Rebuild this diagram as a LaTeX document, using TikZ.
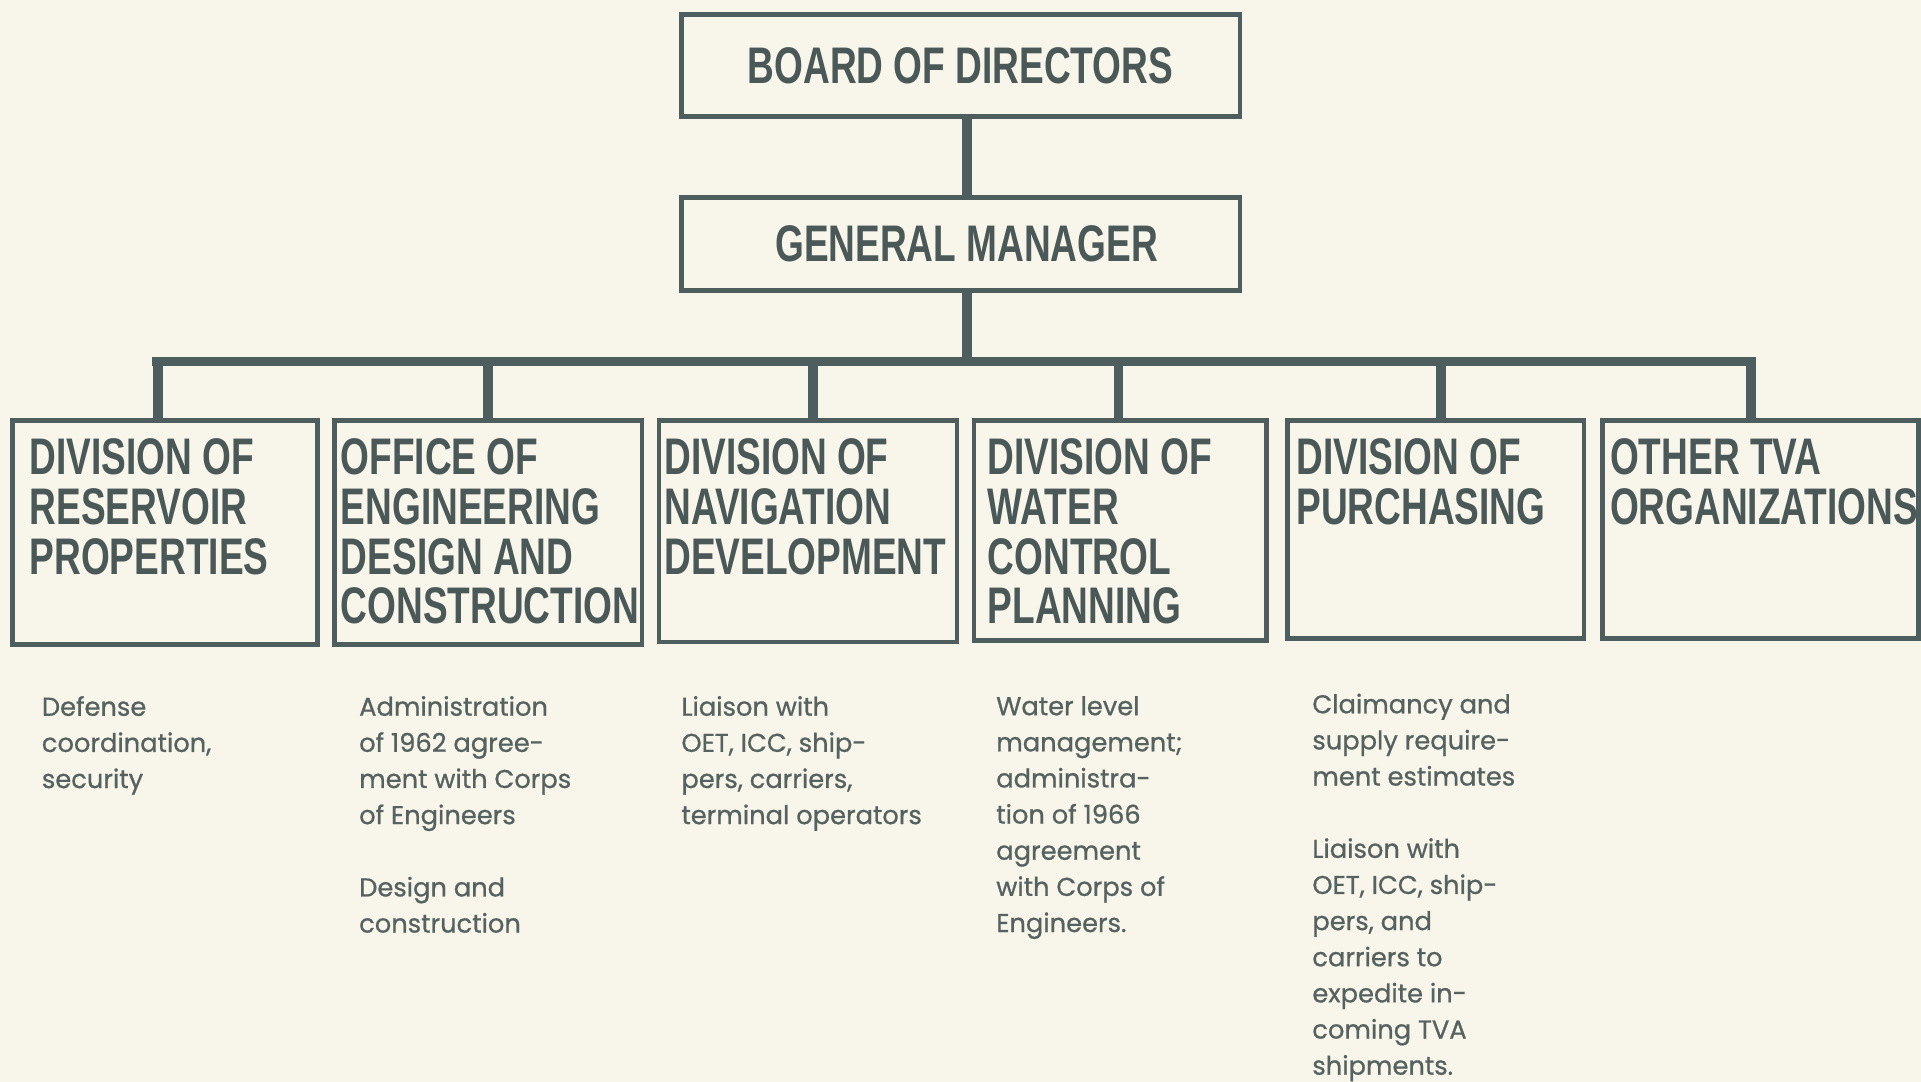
\documentclass[tikz,border=0pt]{standalone}
\usepackage{fontspec}
\newfontfamily\headfont[FakeStretch=0.72]{Liberation Sans}
\newfontfamily\descfont[FakeBold=0.8]{Poppins}
\definecolor{bgc}{HTML}{F8F6EB}
\definecolor{linec}{HTML}{4E5D5D}
\definecolor{headc}{HTML}{4A5858}
\definecolor{descc}{HTML}{56625F}
\begin{document}
\begin{tikzpicture}[x=1pt,y=-1pt,
  box/.style={draw=linec, line width=3.8pt, inner sep=0pt, outer sep=0pt, anchor=north west},
  conn/.style={draw=linec, line width=8pt},
  bus/.style={draw=linec, line width=8pt, line cap=rect},
  toptext/.style={text=headc, font=\headfont\bfseries\fontsize{42}{40.5}\selectfont},
  head/.style={text=headc, font=\headfont\bfseries\fontsize{42}{40.5}\selectfont, align=left, anchor=north west, inner sep=0pt},
  desc/.style={text=descc, font=\descfont\fontsize{21}{29.5}\selectfont, align=left, anchor=north west, inner sep=0pt}]
\fill[bgc] (0,0) rectangle (1568,883);
\useasboundingbox (0,0) rectangle (1568,883);

% top boxes
\node[box, toptext, minimum width=456pt, minimum height=83pt] (board) at (556,12) {BOARD OF DIRECTORS};
\node[box, toptext, minimum width=456pt, minimum height=76pt] (gm) at (556,161) {\hspace*{10pt}GENERAL MANAGER};

% division boxes
\node[box, minimum width=249pt, minimum height=183pt] (d1) at (10,343) {};
\node[box, minimum width=251pt, minimum height=183pt] (d2) at (273,343) {};
\node[box, minimum width=243pt, minimum height=181pt] (d3) at (538,343) {};
\node[box, minimum width=239pt, minimum height=180pt] (d4) at (795,343) {};
\node[box, minimum width=242pt, minimum height=178pt] (d5) at (1051,343) {};
\node[box, minimum width=258pt, minimum height=178pt] (d6) at (1308,343) {};

% box titles
\node[head] (t1) at (24,358) {DIVISION OF\\RESERVOIR\\PROPERTIES};
\node[head] (t2) at (278,358) {OFFICE OF\\ENGINEERING\\DESIGN AND\\CONSTRUCTION};
\node[head] (t3) at (542,358) {DIVISION OF\\NAVIGATION\\DEVELOPMENT};
\node[head] (t4) at (806,358) {DIVISION OF\\WATER\\CONTROL\\PLANNING};
\node[head] (t5) at (1058,358) {DIVISION OF\\PURCHASING};
\node[head] (t6) at (1314,358) {OTHER TVA\\ORGANIZATIONS};

% connectors
\coordinate (busL) at (128,295);
\coordinate (busR) at (1429,295);
\draw[conn] ([xshift=5pt]board.south) -- ([xshift=5pt]gm.north);
\draw[conn] ([xshift=5pt]gm.south) -- ([xshift=5pt]gm.south |- busL);
\draw[bus] (busL) -- (busR);
\draw[conn] ([xshift=-5.5pt]d1.north) -- ([xshift=-5.5pt]d1.north |- busL);
\draw[conn] ([xshift=-0.5pt]d2.north) -- ([xshift=-0.5pt]d2.north |- busL);
\draw[conn] ([xshift=4pt]d3.north) -- ([xshift=4pt]d3.north |- busL);
\draw[conn] ([xshift=-1.5pt]d4.north) -- ([xshift=-1.5pt]d4.north |- busL);
\draw[conn] ([xshift=4pt]d5.north) -- ([xshift=4pt]d5.north |- busL);
\draw[conn] ([xshift=-8pt]d6.north) -- ([xshift=-8pt]d6.north |- busL);

% descriptions
\node[desc] (n1) at (34,568) {Defense\\coordination,\\security};
\node[desc] (n2) at (293,568) {Administration\\of 1962 agree-\\ment with Corps\\of Engineers\\[29.5pt]Design and\\construction};
\node[desc] (n3) at (556,568) {Liaison with\\OET, ICC, ship-\\pers, carriers,\\terminal operators};
\node[desc] (n4) at (813,568) {Water level\\management;\\administra-\\tion of 1966\\agreement\\with Corps of\\Engineers.};
\node[desc] (n5) at (1071,566) {Claimancy and\\supply require-\\ment estimates\\[29.5pt]Liaison with\\OET, ICC, ship-\\pers, and\\carriers to\\expedite in-\\coming TVA\\shipments.};
\end{tikzpicture}
\end{document}
